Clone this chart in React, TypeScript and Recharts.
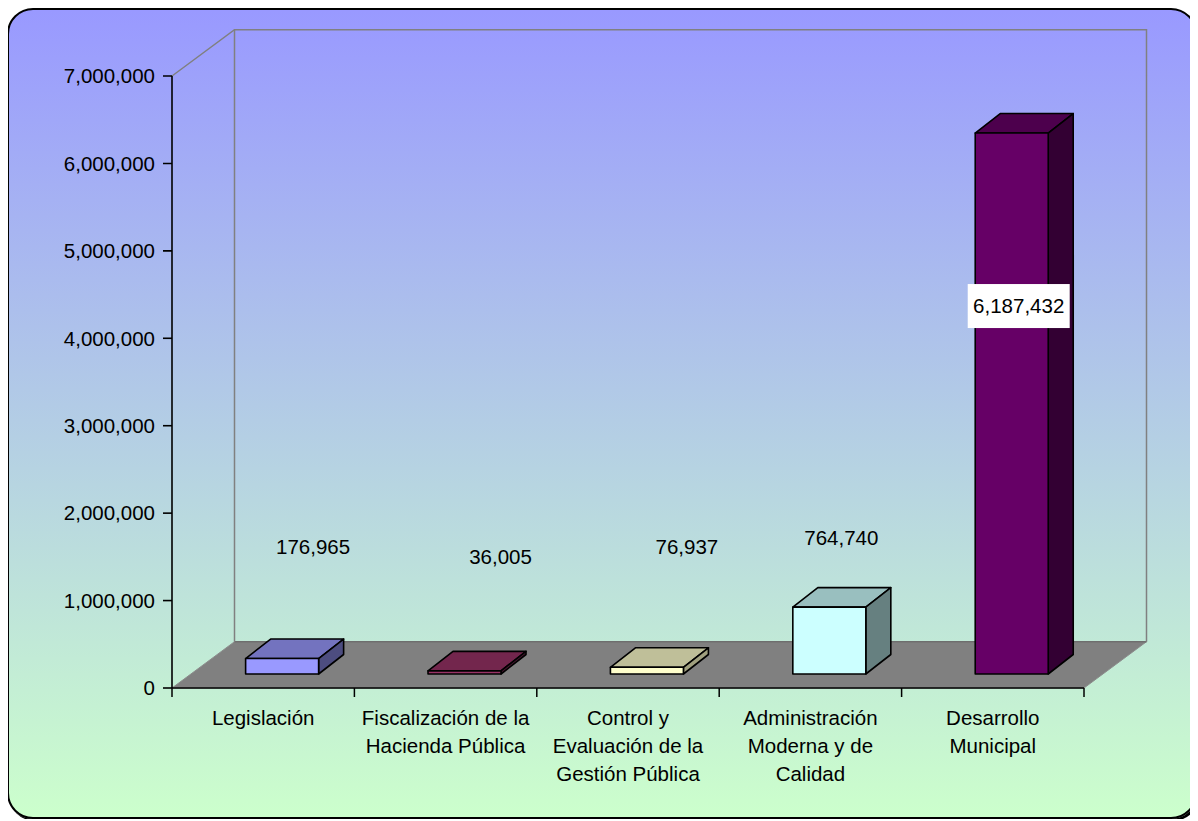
import React from 'react';
import { BarChart, Bar, XAxis, YAxis, ReferenceArea, LabelList } from 'recharts';

// ---------- data ----------
const categories = [
  'Legislación',
  'Fiscalización de la\nHacienda Pública',
  'Control y\nEvaluación de la\nGestión Pública',
  'Administración\nModerna y de\nCalidad',
  'Desarrollo\nMunicipal',
];
const values = [176965, 36005, 76937, 764740, 6187432];
const yTicks = [0, 1000000, 2000000, 3000000, 4000000, 5000000, 6000000, 7000000];

// ---------- styles ----------
const frontColors = ['#9999FF', '#993366', '#FFFFCC', '#CCFFFF', '#660066'];
const topColors = ['#7373BF', '#73264D', '#BFBF99', '#99BFBF', '#4D004D'];
const sideColors = ['#4D4D80', '#4D1933', '#A0A07F', '#668080', '#330033'];
// label placement relative to each bar's front face (centre x, top y)
const labelOffsets: [number, number][] = [[31, -112], [36, -114], [40, -121], [12, -70], [7, 173]];
const labelBoxed = [false, false, false, false, true];

const data = categories.map((name, i) => ({ name, value: values[i] }));

const W = 1186;
const H = 807;
const MARGIN = { top: 66, right: 111, bottom: 29, left: 63 };
const YAXIS_W = 100;
const XAXIS_H = 100;
const PLOT_W = W - MARGIN.left - MARGIN.right - YAXIS_W;
const HALF_BAND = PLOT_W / categories.length / 2;

const WALL_DX = 62.5;
const WALL_DY = 46.3;
const BAR_OFF_X = 18.9;
const BAR_OFF_Y = 14;
const BAR_DX = 25;
const BAR_DY = 19.5;

const FONT = '"Liberation Sans", Arial, sans-serif';
const FS = 20.5;

const fmt = (v: number) => Number(v).toLocaleString('en-US');

const Walls = (p: any) => {
  const x0 = Number(p.x);
  const x1 = x0 + Number(p.width);
  const yT = Number(p.y);
  const yB = yT + Number(p.height);
  return (
    <g>
      <polygon
        points={`${x0},${yB} ${x0 + WALL_DX},${yB - WALL_DY} ${x1 + WALL_DX},${yB - WALL_DY} ${x1},${yB}`}
        fill="#808080"
        stroke="#8c8c8c"
        strokeWidth={1}
      />
      <line x1={x0 + WALL_DX} y1={yB - WALL_DY} x2={x1 + WALL_DX} y2={yB - WALL_DY} stroke="#6e6e6e" strokeWidth={1.5} />
      <polyline
        points={`${x0},${yT} ${x0 + WALL_DX},${yT - WALL_DY} ${x1 + WALL_DX},${yT - WALL_DY} ${x1 + WALL_DX},${yB - WALL_DY}`}
        fill="none"
        stroke="#808080"
        strokeWidth={1.5}
      />
      <line x1={x0 + WALL_DX} y1={yT - WALL_DY} x2={x0 + WALL_DX} y2={yB - WALL_DY} stroke="#808080" strokeWidth={1.5} />
    </g>
  );
};

const Box3D = (props: any) => {
  const { x, y, width, height } = props;
  let index = props.index;
  if (index === undefined && props.payload) index = categories.indexOf(props.payload.name);
  const fx = Number(x) + BAR_OFF_X;
  const fy = Number(y) - BAR_OFF_Y;
  const w = Number(width);
  const h = Math.max(0, Number(height));
  const fr = fx + w;
  const fb = fy + h;
  return (
    <g stroke="#000" strokeWidth={1.6} strokeLinejoin="round">
      <polygon
        points={`${fx},${fy} ${fx + BAR_DX},${fy - BAR_DY} ${fr + BAR_DX},${fy - BAR_DY} ${fr},${fy}`}
        fill={topColors[index]}
      />
      <polygon
        points={`${fr},${fy} ${fr + BAR_DX},${fy - BAR_DY} ${fr + BAR_DX},${fb - BAR_DY} ${fr},${fb}`}
        fill={sideColors[index]}
      />
      <rect x={fx} y={fy} width={w} height={h} fill={frontColors[index]} />
    </g>
  );
};

const renderLabel = (props: any) => {
  const vb = props.viewBox || props;
  const index = props.index;
  const [ox, oy] = labelOffsets[index] || [0, 0];
  const cx = Number(vb.x) + Number(vb.width) / 2 + BAR_OFF_X + ox;
  const cy = Number(vb.y) - BAR_OFF_Y + oy;
  return (
    <g>
      {labelBoxed[index] && <rect x={cx - 51} y={cy - 22} width={102} height={44} fill="#FFFFFF" />}
      <text x={cx} y={cy} dy="0.36em" textAnchor="middle" fontFamily={FONT} fontSize={FS} fill="#000">
        {fmt(values[index])}
      </text>
    </g>
  );
};

const CategoryTick = (props: any) => {
  const { x, y, payload, index } = props;
  const lines = String(payload.value).split('\n');
  const axisY = Number(y);
  const cx = Number(x);
  return (
    <g>
      <line x1={cx - HALF_BAND} y1={axisY} x2={cx - HALF_BAND} y2={axisY + 9} stroke="#000" strokeWidth={1.5} />
      {index === categories.length - 1 && (
        <line x1={cx + HALF_BAND} y1={axisY} x2={cx + HALF_BAND} y2={axisY + 9} stroke="#000" strokeWidth={1.5} />
      )}
      <text x={cx} y={axisY + 37} textAnchor="middle" fontFamily={FONT} fontSize={FS} fill="#000">
        {lines.map((l, i) => (
          <tspan key={i} x={cx} dy={i === 0 ? 0 : 28}>
            {l}
          </tspan>
        ))}
      </text>
    </g>
  );
};

export default function App() {
  return (
    <div style={{ position: 'relative', left: -1 }}>
      <div
        style={{
          width: 1190,
          height: 811,
          boxSizing: 'border-box',
          border: '2px solid #000',
          borderRadius: 26,
          boxShadow: '2px 2px 0 #000',
          background: 'linear-gradient(to bottom, #9999FF 0%, #CCFFCC 100%)',
          overflow: 'hidden',
        }}
      >
        <BarChart width={W} height={H} data={data} margin={MARGIN} barCategoryGap="30%">
          <ReferenceArea y1={0} y2={7000000} shape={Walls} ifOverflow="visible" />
          <XAxis
            dataKey="name"
            height={XAXIS_H}
            interval={0}
            tickLine={false}
            tickSize={0}
            tickMargin={0}
            axisLine={{ stroke: '#000', strokeWidth: 1.6 }}
            tick={<CategoryTick />}
          />
          <YAxis
            width={YAXIS_W}
            domain={[0, 7000000]}
            ticks={yTicks}
            interval={0}
            tickFormatter={fmt}
            tickSize={9}
            tickMargin={8}
            axisLine={{ stroke: '#000', strokeWidth: 1.6 }}
            tickLine={{ stroke: '#000', strokeWidth: 1.6 }}
            tick={{ fill: '#000', fontSize: FS, fontFamily: FONT }}
          />
          <Bar dataKey="value" isAnimationActive={false} shape={<Box3D />}>
            <LabelList dataKey="value" content={renderLabel} />
          </Bar>
        </BarChart>
      </div>
    </div>
  );
}
